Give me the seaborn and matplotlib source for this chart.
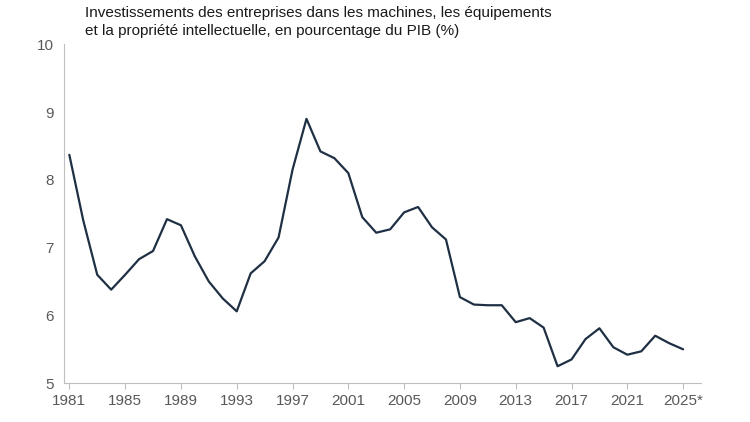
import matplotlib
matplotlib.use("Agg")
import matplotlib.pyplot as plt
import seaborn as sns
import pandas as pd

years = list(range(1981, 2026))
values = [8.37, 7.4, 6.6, 6.38, 6.6, 6.83, 6.95, 7.42, 7.33, 6.87, 6.5, 6.25, 6.06, 6.62,
          6.8, 7.15, 8.15, 8.9, 8.42, 8.32, 8.1, 7.45, 7.22, 7.27, 7.52, 7.6, 7.3, 7.12,
          6.27, 6.16, 6.15, 6.15, 5.9, 5.96, 5.82, 5.25, 5.35, 5.65, 5.81, 5.53, 5.42,
          5.47, 5.7, 5.59, 5.5]
tick_years = list(range(1981, 2026, 4))
tick_labels = [str(y) for y in tick_years[:-1]] + ["2025*"]

sns.set_style("white")
plt.rcParams['font.family'] = ['Liberation Sans', 'DejaVu Sans']
df = pd.DataFrame({"year": years, "value": values})

fig, ax = plt.subplots(figsize=(7.5, 4.22), dpi=100)
fig.subplots_adjust(left=0.085, right=0.935, top=0.895, bottom=0.092)
sns.lineplot(data=df, x="year", y="value", color="#1f3044", linewidth=1.6, ax=ax)
ax.set_xlim(1980.6, 2026.3)
ax.set_ylim(5, 10)
ax.set_yticks([5, 6, 7, 8, 9, 10])
ax.set_xticks(tick_years)
ax.set_xticklabels(tick_labels)
ax.set_xlabel("")
ax.set_ylabel("")
for s in ["top", "right"]:
    ax.spines[s].set_visible(False)
for s in ["left", "bottom"]:
    ax.spines[s].set_color("#bfbfbf")
ax.tick_params(axis="x", colors="#595959", labelsize=11, bottom=True, length=4, color="#bfbfbf")
ax.tick_params(axis="y", colors="#595959", labelsize=11, left=False)
fig.text(0.113, 0.985, "Investissements des entreprises dans les machines, les équipements\n"
         "et la propriété intellectuelle, en pourcentage du PIB (%)",
         ha="left", va="top", fontsize=11, color="#1a1a1a", linespacing=1.3)
fig.savefig("out.png", dpi=100)
